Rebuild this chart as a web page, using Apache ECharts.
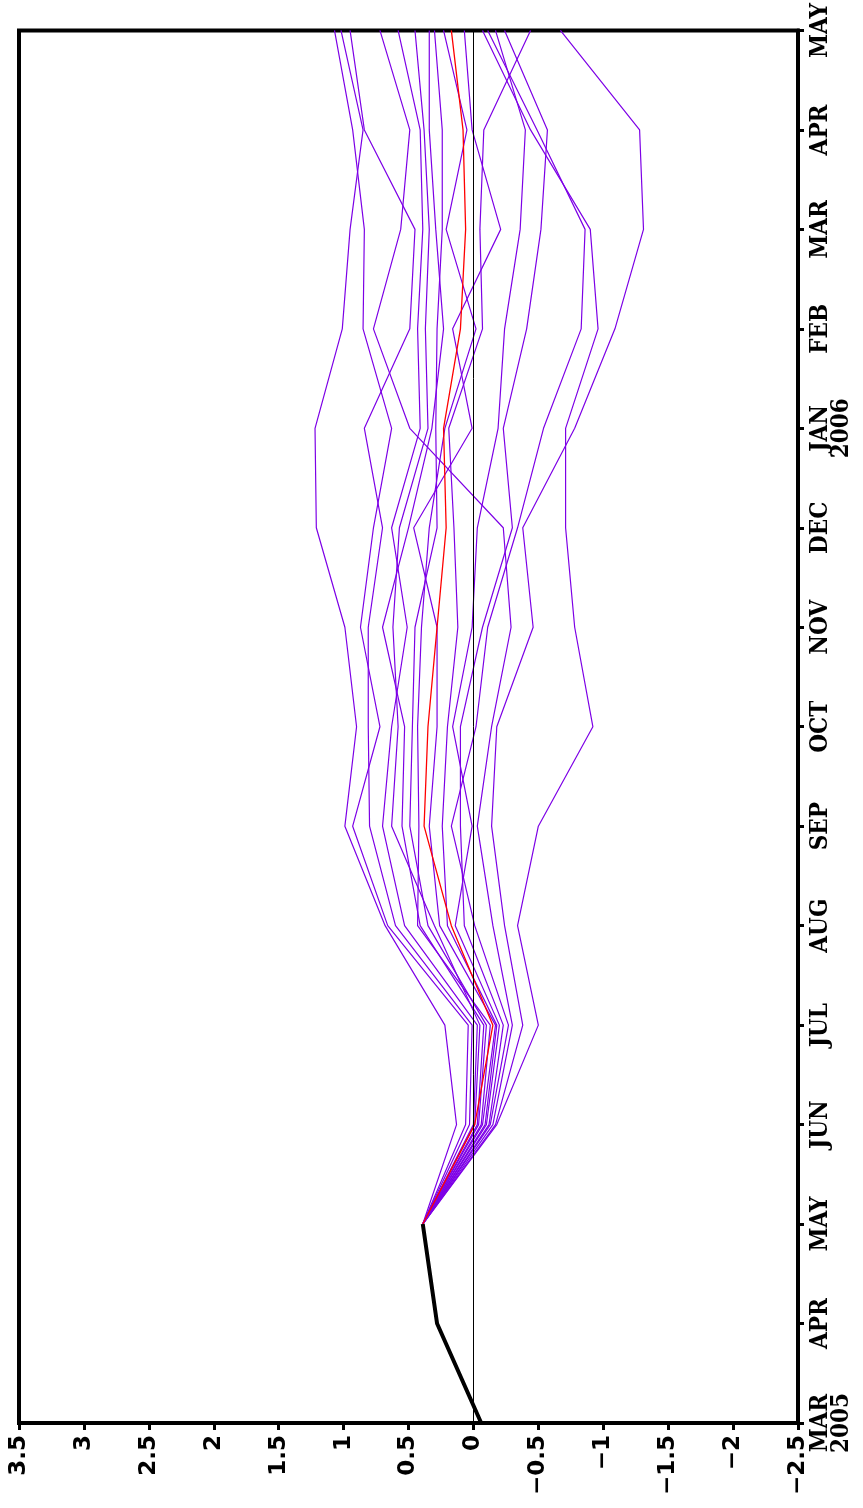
<!DOCTYPE html>
<html>
<head>
<meta charset="utf-8">
<script src="https://cdn.jsdelivr.net/npm/echarts@6/dist/echarts.min.js"></script>
<style>
html,body{margin:0;padding:0;background:#fff;}
#chart{width:863px;height:1508px;}
</style>
</head>
<body>
<div id="chart"></div>
<script>
// Months along the (vertical) time axis, bottom to top
const months = ['MAR\n2005','APR','MAY','JUN','JUL','AUG','SEP','OCT','NOV','DEC','JAN\n2006','FEB','MAR','APR','MAY'];
const valueTicks = [-2.5, 3.5, 0.5]; // min, max, interval

// Observed anomaly (thick black)
const obs = [-0.06, 0.28, 0.39];

// Ensemble mean (red)
const ensMean = [null, null, 0.39, -0.01, -0.15, 0.17, 0.38, 0.35, 0.28, 0.21, 0.23, 0.10, 0.06, 0.08, 0.17];

// Ensemble members (purple)
const m01 = [null, null, 0.39, 0.13, 0.22, 0.68, 0.99, 0.90, 0.99, 1.21, 1.22, 1.01, 0.95, 0.85, 1.02];
const m02 = [null, null, 0.39, 0.06, 0.04, 0.66, 0.93, 0.72, 0.87, 0.77, 0.63, 0.85, 0.84, 0.93, 1.07];
const m03 = [null, null, 0.39, 0.03, 0.01, 0.60, 0.80, 0.81, 0.81, 0.70, 0.84, 0.49, 0.45, 0.84, 0.95];
const m04 = [null, null, 0.39, 0.00, -0.03, 0.53, 0.70, 0.63, 0.51, 0.63, 0.41, 0.43, 0.39, 0.41, 0.58];
const m05 = [null, null, 0.39, -0.01, -0.05, 0.30, 0.63, 0.58, 0.62, 0.57, 0.35, 0.37, 0.34, 0.38, 0.45];
const m06 = [null, null, 0.39, -0.03, -0.08, 0.41, 0.55, 0.53, 0.70, 0.50, 0.32, 0.23, 0.29, 0.34, 0.34];
const m07 = [null, null, 0.39, -0.04, -0.10, 0.35, 0.49, 0.47, 0.45, 0.28, 0.29, 0.28, 0.24, 0.24, 0.30];
const m08 = [null, null, 0.39, -0.06, -0.13, 0.43, 0.42, 0.43, 0.40, 0.34, 0.22, -0.02, 0.21, 0.05, 0.23];
const m09 = [null, null, 0.39, -0.07, -0.17, 0.26, 0.34, 0.28, 0.28, 0.46, 0.01, 0.16, -0.21, 0.01, 0.07];
const m10 = [null, null, 0.39, -0.09, -0.18, 0.20, 0.24, 0.20, 0.12, 0.15, 0.19, -0.07, -0.05, -0.08, -0.44];
const m11 = [null, null, 0.39, -0.10, -0.20, 0.14, 0.01, 0.16, 0.01, -0.03, -0.19, -0.24, -0.36, -0.40, -0.17];
const m12 = [null, null, 0.39, -0.12, -0.23, 0.07, 0.10, 0.10, -0.07, -0.30, -0.23, -0.41, -0.52, -0.57, -0.24];
const m13 = [null, null, 0.39, -0.13, -0.27, -0.01, 0.17, -0.02, -0.11, -0.34, -0.54, -0.83, -0.86, -0.49, -0.11];
const m14 = [null, null, 0.39, -0.15, -0.30, -0.15, -0.03, -0.14, -0.29, -0.23, 0.49, 0.77, 0.56, 0.49, 0.72];
const m15 = [null, null, 0.39, -0.17, -0.38, -0.24, -0.14, -0.18, -0.46, -0.38, -0.78, -1.09, -1.31, -1.28, -0.67];
const m16 = [null, null, 0.39, -0.18, -0.50, -0.34, -0.50, -0.92, -0.78, -0.71, -0.71, -0.96, -0.90, -0.44, -0.07];
const members = [m01, m02, m03, m04, m05, m06, m07, m08, m09, m10, m11, m12, m13, m14, m15, m16];

const PURPLE = '#7d00e6';

function toPairs(arr) {
  const out = [];
  arr.forEach((v, i) => { if (v !== null && v !== undefined) out.push([v, i]); });
  return out;
}

const series = [];
members.forEach((m, k) => {
  series.push({
    name: 'member' + (k + 1),
    type: 'line',
    data: toPairs(m),
    symbol: 'none',
    smooth: false,
    lineStyle: { color: PURPLE, width: 1.2 },
    z: 3,
    silent: true
  });
});
series.push({
  name: 'mean',
  type: 'line',
  data: toPairs(ensMean),
  symbol: 'none',
  lineStyle: { color: '#ff0000', width: 1.3 },
  z: 4,
  silent: true
});
series.push({
  name: 'obs',
  type: 'line',
  data: toPairs(obs),
  symbol: 'none',
  lineStyle: { color: '#000000', width: 4 },
  z: 5,
  silent: true,
  markLine: {
    silent: true,
    symbol: ['none', 'none'],
    label: { show: false },
    lineStyle: { color: '#000', width: 1, type: 'solid' },
    data: [{ xAxis: 0 }]
  }
});

const chart = echarts.init(document.getElementById('chart'), null, { renderer: 'canvas' });
chart.setOption({
  animation: false,
  backgroundColor: '#ffffff',
  grid: {
    left: 19, right: 65, top: 27, bottom: 85,
    show: true, borderColor: '#000', borderWidth: 4, backgroundColor: 'transparent'
  },
  xAxis: {
    type: 'value',
    min: valueTicks[0], max: valueTicks[1], interval: valueTicks[2],
    inverse: true,
    position: 'bottom',
    axisLine: { show: true, onZero: false, lineStyle: { color: '#000', width: 4 } },
    axisTick: { show: true, length: 7, lineStyle: { color: '#000', width: 3 } },
    splitLine: { show: false },
    axisLabel: {
      rotate: 90,
      margin: 12,
      color: '#000',
      fontFamily: 'DejaVu Sans',
      fontWeight: 'bold',
      fontSize: 23,
      formatter: v => String(v).replace('-', '\u2212')
    }
  },
  yAxis: {
    type: 'category',
    data: months,
    boundaryGap: false,
    position: 'right',
    axisLine: { show: true, onZero: false, lineStyle: { color: '#000', width: 4 } },
    axisTick: { show: true, length: 6, lineStyle: { color: '#000', width: 3 } },
    splitLine: { show: false },
    axisLabel: {
      rotate: 90,
      margin: 12,
      color: '#000',
      fontFamily: 'DejaVu Serif Condensed, DejaVu Serif, serif',
      fontWeight: 'bold',
      fontSize: 24,
      lineHeight: 21,
      interval: 0
    }
  },
  series: series
});
</script>
</body>
</html>
